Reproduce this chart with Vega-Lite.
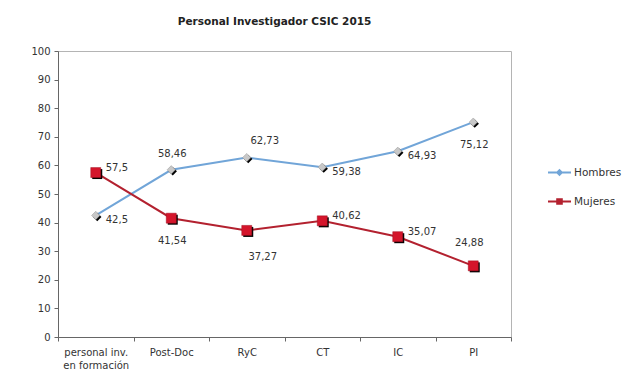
{
  "$schema": "https://vega.github.io/schema/vega-lite/v6.json",
  "width": 453,
  "height": 286,
  "autosize": "none",
  "padding": {"left": 58, "top": 51, "right": 128, "bottom": 46},
  "background": "white",
  "config": {
    "font": "DejaVu Sans",
    "view": {"stroke": "#b4b4b4", "strokeWidth": 1}
  },
  "title": {
    "text": "Personal Investigador CSIC 2015",
    "fontSize": 10.5,
    "fontWeight": "bold",
    "color": "#222",
    "anchor": "middle",
    "dx": -10,
    "offset": 19
  },
  "data": {
    "values": [
      {"cat": "personal inv. en formación", "serie": "Hombres", "v": 42.5, "lab": "42,5"},
      {"cat": "Post-Doc", "serie": "Hombres", "v": 58.46, "lab": "58,46"},
      {"cat": "RyC", "serie": "Hombres", "v": 62.73, "lab": "62,73"},
      {"cat": "CT", "serie": "Hombres", "v": 59.38, "lab": "59,38"},
      {"cat": "IC", "serie": "Hombres", "v": 64.93, "lab": "64,93"},
      {"cat": "PI", "serie": "Hombres", "v": 75.12, "lab": "75,12"},
      {"cat": "personal inv. en formación", "serie": "Mujeres", "v": 57.5, "lab": "57,5"},
      {"cat": "Post-Doc", "serie": "Mujeres", "v": 41.54, "lab": "41,54"},
      {"cat": "RyC", "serie": "Mujeres", "v": 37.27, "lab": "37,27"},
      {"cat": "CT", "serie": "Mujeres", "v": 40.62, "lab": "40,62"},
      {"cat": "IC", "serie": "Mujeres", "v": 35.07, "lab": "35,07"},
      {"cat": "PI", "serie": "Mujeres", "v": 24.88, "lab": "24,88"}
    ]
  },
  "encoding": {
    "x": {
      "field": "cat",
      "type": "nominal",
      "sort": null,
      "bandPosition": 0.5,
      "scale": {"type": "band", "paddingInner": 0, "paddingOuter": 0},
      "axis": {
        "title": null,
        "labelAngle": 0,
        "tickBand": "extent",
        "domainColor": "#666",
        "tickColor": "#666",
        "tickSize": 4,
        "labelPadding": 6,
        "labelFontSize": 10,
        "labelColor": "#333",
        "labelLineHeight": 13,
        "labelBaseline": "top",
        "labelExpr": "datum.label == 'personal inv. en formación' ? ['personal inv.', 'en formación'] : datum.label"
      }
    },
    "y": {
      "field": "v",
      "type": "quantitative",
      "scale": {"domain": [0, 100]},
      "axis": {
        "title": null,
        "grid": false,
        "values": [0, 10, 20, 30, 40, 50, 60, 70, 80, 90, 100],
        "domainColor": "#666",
        "tickColor": "#666",
        "tickSize": 4,
        "labelPadding": 4,
        "labelFontSize": 10,
        "labelColor": "#333"
      }
    }
  },
  "layer": [
    {
      "mark": {"type": "line", "strokeWidth": 2},
      "encoding": {
        "color": {
          "field": "serie",
          "type": "nominal",
          "scale": {"domain": ["Hombres", "Mujeres"], "range": ["#71a5d8", "#b3212f"]},
          "legend": {
            "orient": "none",
            "legendX": 489,
            "legendY": 109,
            "title": null,
            "symbolSize": 529,
            "symbolStrokeWidth": 2,
            "symbolType": "M-1,0L1,0M0,-0.2L0.2,0L0,0.2L-0.2,0Z",
            "labelFontSize": 10.5,
            "labelColor": "#333",
            "labelOffset": 2,
            "rowPadding": 10,
            "encode": {
              "symbols": {
                "update": {
                  "shape": {"signal": "datum.value == 'Hombres' ? 'M-1,0L1,0M0,-0.2L0.2,0L0,0.2L-0.2,0Z' : 'M-1,0L1,0M-0.2,-0.2L0.2,-0.2L0.2,0.2L-0.2,0.2Z'"},
                  "fill": {"signal": "datum.value == 'Hombres' ? '#c8c8c8' : '#d4152b'"},
                  "opacity": {"value": 1}
                }
              }
            }
          }
        }
      }
    },
    {
      "transform": [{"filter": "datum.serie == 'Hombres'"}],
      "mark": {"type": "point", "shape": "diamond", "size": 70, "filled": true, "opacity": 1, "xOffset": 1.5, "yOffset": 1.5, "color": "#000"}
    },
    {
      "transform": [{"filter": "datum.serie == 'Hombres'"}],
      "mark": {"type": "point", "shape": "diamond", "size": 70, "filled": true, "opacity": 1, "fill": "#c8c8c8", "stroke": "#999", "strokeWidth": 0.5}
    },
    {
      "transform": [{"filter": "datum.serie == 'Mujeres'"}],
      "mark": {"type": "point", "shape": "square", "size": 100, "filled": true, "opacity": 1, "xOffset": 1.5, "yOffset": 1.5, "color": "#000"}
    },
    {
      "transform": [{"filter": "datum.serie == 'Mujeres'"}],
      "mark": {"type": "point", "shape": "square", "size": 100, "filled": true, "opacity": 1, "fill": "#d4152b", "stroke": "#a01020", "strokeWidth": 0.5}
    },
    {
      "transform": [{"filter": "datum.serie == 'Hombres' && indexof(['personal inv. en formación', 'CT', 'IC'], datum.cat) >= 0"}],
      "mark": {"type": "text", "align": "left", "baseline": "middle", "dx": 10, "dy": 5, "fontSize": 10, "color": "#333"},
      "encoding": {"text": {"field": "lab"}}
    },
    {
      "transform": [{"filter": "datum.serie == 'Mujeres' && indexof(['personal inv. en formación', 'CT', 'IC'], datum.cat) >= 0"}],
      "mark": {"type": "text", "align": "left", "baseline": "middle", "dx": 10, "dy": -5, "fontSize": 10, "color": "#333"},
      "encoding": {"text": {"field": "lab"}}
    },
    {
      "transform": [{"filter": "datum.serie == 'Hombres' && datum.cat == 'Post-Doc'"}],
      "mark": {"type": "text", "align": "center", "baseline": "middle", "dx": 1, "dy": -16, "fontSize": 10, "color": "#333"},
      "encoding": {"text": {"field": "lab"}}
    },
    {
      "transform": [{"filter": "datum.serie == 'Hombres' && datum.cat == 'RyC'"}],
      "mark": {"type": "text", "align": "center", "baseline": "middle", "dx": 18, "dy": -17, "fontSize": 10, "color": "#333"},
      "encoding": {"text": {"field": "lab"}}
    },
    {
      "transform": [{"filter": "(datum.serie == 'Hombres' && datum.cat == 'PI') || (datum.serie == 'Mujeres' && datum.cat == 'Post-Doc')"}],
      "mark": {"type": "text", "align": "center", "baseline": "middle", "dx": 1, "dy": 23, "fontSize": 10, "color": "#333"},
      "encoding": {"text": {"field": "lab"}}
    },
    {
      "transform": [{"filter": "datum.serie == 'Mujeres' && datum.cat == 'RyC'"}],
      "mark": {"type": "text", "align": "center", "baseline": "middle", "dx": 16, "dy": 27, "fontSize": 10, "color": "#333"},
      "encoding": {"text": {"field": "lab"}}
    },
    {
      "transform": [{"filter": "datum.serie == 'Mujeres' && datum.cat == 'PI'"}],
      "mark": {"type": "text", "align": "center", "baseline": "middle", "dx": -4, "dy": -23, "fontSize": 10, "color": "#333"},
      "encoding": {"text": {"field": "lab"}}
    }
  ]
}
